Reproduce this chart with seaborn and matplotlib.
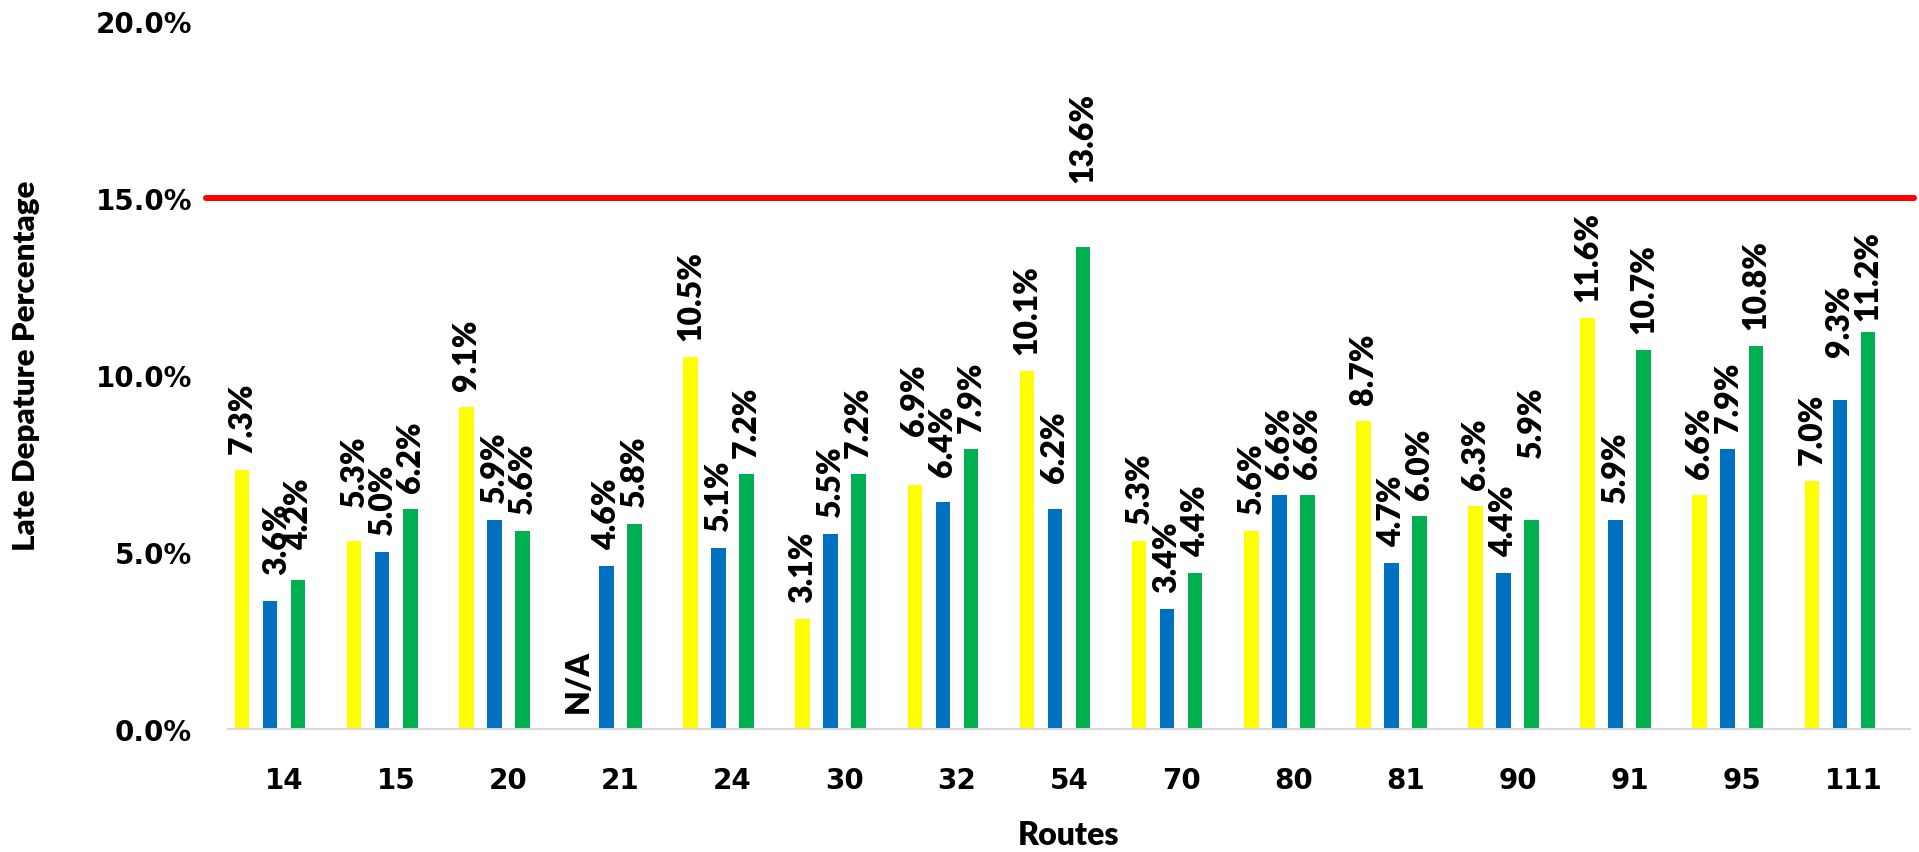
import numpy as np
import pandas as pd
import matplotlib
matplotlib.use("Agg")
import matplotlib.pyplot as plt
import seaborn as sns

# Data (late departure %, per route)
routes = ["14", "15", "20", "21", "24", "30", "32", "54", "70", "80", "81", "90", "91", "95", "111"]
series_names = ["Period 1", "Period 2", "Period 3"]
late_p1 = [7.3, 5.3, 9.1, np.nan, 10.5, 3.1, 6.9, 10.1, 5.3, 5.6, 8.7, 6.3, 11.6, 6.6, 7.0]
late_p2 = [3.6, 5.0, 5.9, 4.6, 5.1, 5.5, 6.4, 6.2, 3.4, 6.6, 4.7, 4.4, 5.9, 7.9, 9.3]
late_p3 = [4.2, 6.2, 5.6, 5.8, 7.2, 7.2, 7.9, 13.6, 4.4, 6.6, 6.0, 5.9, 10.7, 10.8, 11.2]
target = 15.0
y_ticks = [0, 5, 10, 15, 20]

df = pd.DataFrame({
    "Route": routes * 3,
    "Series": np.repeat(series_names, len(routes)),
    "Late": late_p1 + late_p2 + late_p3,
})

# Styling
colors = {"Period 1": "#FFFF00", "Period 2": "#0070C0", "Period 3": "#00B050", "_blank": "white"}
label_font = ["Lato", "DejaVu Sans"]
label_weight = 800
tick_font = ["DejaVu Sans"]
default_gap = 17  # px between bar top and label
label_gap = {("14", "Period 2"): 27, ("14", "Period 3"): 31, ("15", "Period 1"): 34,
             ("32", "Period 1"): 50, ("32", "Period 2"): 26, ("54", "Period 2"): 27,
             ("54", "Period 3"): 65, ("90", "Period 3"): 62, ("111", "Period 2"): 44,
             ("111", "Period 3"): 12}
label_dx = {("14", "Period 2"): 7}

sns.set_style("white")
plt.rcParams.update({"text.color": "black", "axes.labelcolor": "black",
                     "xtick.color": "black", "ytick.color": "black"})
fig = plt.figure(figsize=(19.19, 8.53), dpi=100)
ax = fig.add_axes([0.11881, 0.14420, 0.87650, 0.83048])

sns.barplot(
    data=df, x="Route", y="Late", hue="Series",
    order=routes, hue_order=series_names + ["_blank"],
    palette=colors, saturation=1, width=1.0, gap=0.48, dodge=True,
    legend=False, errorbar=None, ax=ax, linewidth=0,
)

ax.set_ylim(0, 20)
ax.set_xlim(-0.5, len(routes) - 0.5)
ax.set_yticks(y_ticks)
ax.set_yticklabels([f"{v:.1f}%" for v in y_ticks], fontweight="bold", fontsize=20, family=tick_font)
ax.set_xticks(range(len(routes)))
ax.set_xticklabels(routes, fontweight="bold", fontsize=20, family=tick_font)
ax.tick_params(axis="y", length=0, pad=26)
ax.tick_params(axis="x", length=0, pad=26.5)

for side in ["top", "right", "left"]:
    ax.spines[side].set_visible(False)
ax.spines["bottom"].set_color("#d9d9d9")
ax.spines["bottom"].set_linewidth(1.5)

ax.set_xlabel("Routes", fontsize=23, fontweight=label_weight, family=label_font, labelpad=19)
ax.set_ylabel("Late Depature Percentage", fontsize=22.5, fontweight=label_weight, family=label_font)
ax.yaxis.set_label_coords(-0.112, 0.514)

# target line
ax.axhline(target, xmin=-22 / 1682, xmax=1 + 4 / 1682, color="#FF0000", lw=4.3, clip_on=False, zorder=3)

# value labels
px = 72 / fig.dpi
for name, container in zip(series_names, ax.containers):
    offsets = []
    for bar in container:
        cx = bar.get_x() + bar.get_width() / 2
        idx = int(round(cx))
        offsets.append(cx - idx)
        h = bar.get_height()
        if not np.isfinite(h):
            continue
        key = (routes[idx], name)
        ax.annotate(f"{h:.1f}%", (cx, h),
                    xytext=(label_dx.get(key, 0) * px, label_gap.get(key, default_gap) * px),
                    textcoords="offset points", rotation=90, ha="center", va="bottom",
                    fontsize=23, fontweight=label_weight, family=label_font)
    # missing values
    vals = df[df["Series"] == name]["Late"].to_numpy()
    for i, v in enumerate(vals):
        if np.isnan(v):
            ax.annotate("N/A", (i + np.median(offsets), 0), xytext=(0, default_gap * px),
                        textcoords="offset points", rotation=90, ha="center", va="bottom",
                        fontsize=23, fontweight=label_weight, family=label_font)

fig.savefig("out.png", dpi=100)
